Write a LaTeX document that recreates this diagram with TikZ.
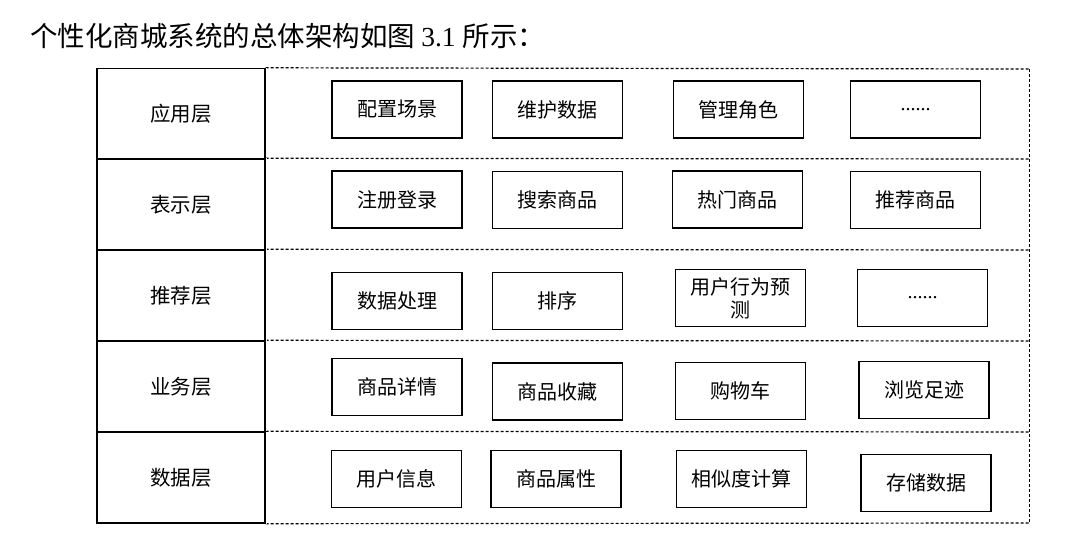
\documentclass[tikz,border=0pt]{standalone}
\usepackage{fontspec}
\setmainfont{Liberation Serif}
\newfontfamily\cjk{Noto Sans CJK SC}
\usepackage{tikz}
\usetikzlibrary{positioning}

\begin{document}
\begin{tikzpicture}[
    x=1pt, y=-1pt,
    layer/.style={draw, line width=1.4pt, minimum width=168pt, minimum height=91pt, inner sep=0, font=\cjk\fontsize{20.5}{23}\selectfont},
    item/.style={draw, line width=1.1pt, minimum width=130pt, minimum height=57pt, inner sep=2pt, font=\cjk\fontsize{20}{23}\selectfont},
    frame/.style={dashed, dash pattern=on 3pt off 2pt, line width=1.2pt},
    side/.style={dashed, dash pattern=on 3pt off 2pt, line width=0.7pt}
]
\useasboundingbox (0,0) rectangle (1089,540);

% Title
\node[anchor=west, inner sep=0, font=\fontsize{27.5}{30}\selectfont] (title) at (30,36)
    {\cjk 个性化商城系统的总体架构如图 \rmfamily 3.1 \cjk 所示：};

% Layers
\node[layer] (app)  at (181,114)   {应用层};
\node[layer] (pres) at (181,204.5) {表示层};
\node[layer] (rec)  at (181,295.5) {推荐层};
\node[layer] (biz)  at (181,386.5) {业务层};
\node[layer] (data) at (181,477.5) {数据层};

% Dashed frame
\draw[frame] (app.north east) -- (1029,69);
\draw[frame] (data.south east) -- (1029,523);
\draw[frame] (pres.north east) -- (1029,159);
\draw[frame] (rec.north east) -- (1029,250);
\draw[frame] (biz.north east) -- (1029,341);
\draw[frame] (data.north east) -- (1029,432);
\draw[side] (1029,69) -- (1029,523);
\draw[side, white, line width=1.6pt] (app.north east) -- (data.south east);
\draw[side] (app.north east) -- (data.south east);

% Application layer
\node[item] (a1) at (397,109.5)   {配置场景};
\node[item] (a2) at (557.5,109.5) {维护数据};
\node[item] (a3) at (738.5,109.5) {管理角色};
\node[item] (a4) at (915.5,109.5) {\rmfamily ......};

% Presentation layer
\node[item] (p1) at (397,199.5)   {注册登录};
\node[item] (p2) at (557.5,200)   {搜索商品};
\node[item] (p3) at (737.5,199.5) {热门商品};
\node[item] (p4) at (915.5,200)   {推荐商品};

% Recommendation layer
\node[item] (r1) at (397,301)     {数据处理};
\node[item] (r2) at (557.5,301)   {排序};
\node[item, align=center, text width=124pt, font=\cjk\fontsize{20}{23}\selectfont] (r3) at (740.5,298) {用户行为预\\测};
\node[item] (r4) at (922.5,298)   {\rmfamily ......};

% Business layer
\node[item] (b1) at (397,387)     {商品详情};
\node[item] (b2) at (557.5,391.5) {商品收藏};
\node[item] (b3) at (740.5,391)   {购物车};
\node[item] (b4) at (924,390)     {浏览足迹};

% Data layer
\node[item] (d1) at (396.5,479)   {用户信息};
\node[item] (d2) at (556,479)     {商品属性};
\node[item] (d3) at (741.5,479)   {相似度计算};
\node[item] (d4) at (926,483)     {存储数据};
\end{tikzpicture}
\end{document}
